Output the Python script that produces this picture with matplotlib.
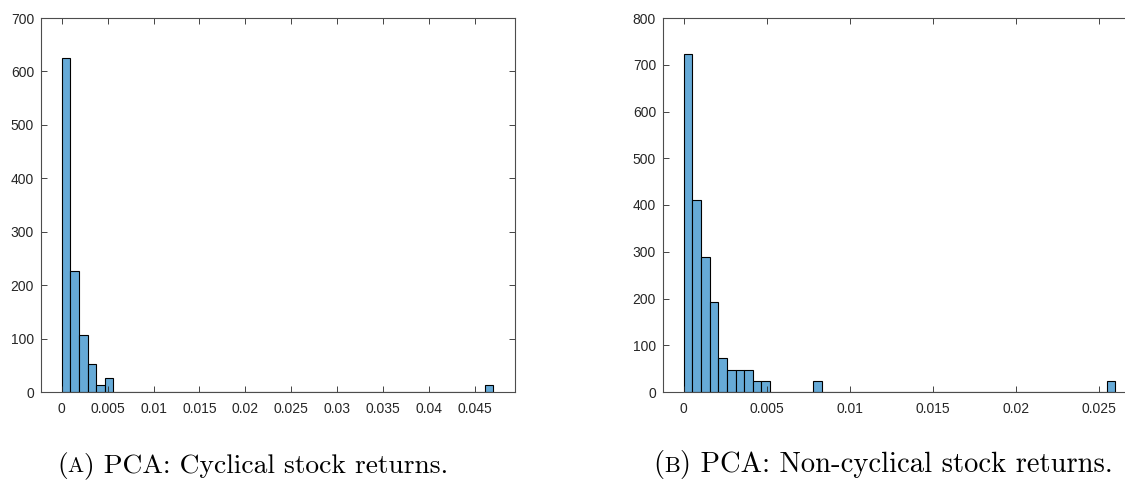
import numpy as np
import matplotlib
matplotlib.use("Agg")
import matplotlib.pyplot as plt

# ---- data ----
# Panel A: cyclical (50 bins, 0 .. 0.047)
a_bin_lo = 0.0
a_bin_hi = 0.047
a_nbins = 50
a_counts_idx = [0, 1, 2, 3, 4, 5, 49]
a_counts_val = [625, 226, 106, 53, 13, 26, 13]

# Panel B: non-cyclical (50 bins, 0 .. 0.026)
b_bin_lo = 0.0
b_bin_hi = 0.026
b_nbins = 50
b_counts_idx = [0, 1, 2, 3, 4, 5, 6, 7, 8, 9, 15, 49]
b_counts_val = [723, 410, 289, 193, 72, 48, 48, 48, 24, 24, 24, 24]

a_xticks = [0, 0.005, 0.01, 0.015, 0.02, 0.025, 0.03, 0.035, 0.04, 0.045]
a_xticklabels = ["0", "0.005", "0.01", "0.015", "0.02", "0.025", "0.03", "0.035", "0.04", "0.045"]
a_yticks = [0, 100, 200, 300, 400, 500, 600, 700]
b_xticks = [0, 0.005, 0.01, 0.015, 0.02, 0.025]
b_xticklabels = ["0", "0.005", "0.01", "0.015", "0.02", "0.025"]
b_yticks = [0, 100, 200, 300, 400, 500, 600, 700, 800]

cap_a = ["(", "A", ") PCA: Cyclical stock returns."]
cap_b = ["(", "B", ") PCA: Non-cyclical stock returns."]

W, H = 1125, 487
fig = plt.figure(figsize=(W / 100, H / 100), dpi=100)

face = "#66aad7"
axcol = "#262626"


def make_counts(n, idx, val):
    c = np.zeros(n)
    for i, v in zip(idx, val):
        c[i] = v
    return c


def panel(rect, lo, hi, n, idx, val, xlim, ylim, xt, xtl, yt):
    ax = fig.add_axes(rect)
    edges = np.linspace(lo, hi, n + 1)
    counts = make_counts(n, idx, val)
    ax.bar(edges[:-1], counts, width=np.diff(edges), align="edge",
           color=face, edgecolor="black", linewidth=0.8)
    ax.set_xlim(*xlim)
    ax.set_ylim(*ylim)
    ax.set_xticks(xt)
    ax.set_xticklabels(xtl)
    ax.set_yticks(yt)
    ax.set_yticklabels([str(v) for v in yt])
    ax.tick_params(direction="in", top=True, right=True, length=4, width=0.6,
                   colors=axcol, labelsize=10, pad=5)
    ax.tick_params(axis="x", pad=7)
    for lab in ax.get_xticklabels() + ax.get_yticklabels():
        lab.set_family(["Liberation Sans", "DejaVu Sans"])
        lab.set_color(axcol)
    for s in ax.spines.values():
        s.set_color("#4d4d4d")
        s.set_linewidth(0.8)
    return ax


panel([41 / W, (H - 392) / H, 474 / W, 374 / H],
      a_bin_lo, a_bin_hi, a_nbins, a_counts_idx, a_counts_val,
      (-0.00225, 0.04936), (0, 700), a_xticks, a_xticklabels, a_yticks)

panel([663 / W, (H - 392) / H, 474 / W, 374 / H],
      b_bin_lo, b_bin_hi, b_nbins, b_counts_idx, b_counts_val,
      (-0.00125, 0.0273), (0, 800), b_xticks, b_xticklabels, b_yticks)

renderer = fig.canvas.get_renderer()


def caption(x0, ybase, parts, size=20):
    x = x0
    sizes = [size, size * 0.78, size]
    for p, s in zip(parts, sizes):
        t = fig.text(x / W, 1 - ybase / H, p, fontsize=s, family="cmr10",
                     ha="left", va="baseline", color="black")
        bb = t.get_window_extent(renderer)
        x += bb.width


caption(57, 472, cap_a, size=19.8)
caption(653, 472, cap_b, size=20.6)

fig.savefig("out.png", dpi=100)
